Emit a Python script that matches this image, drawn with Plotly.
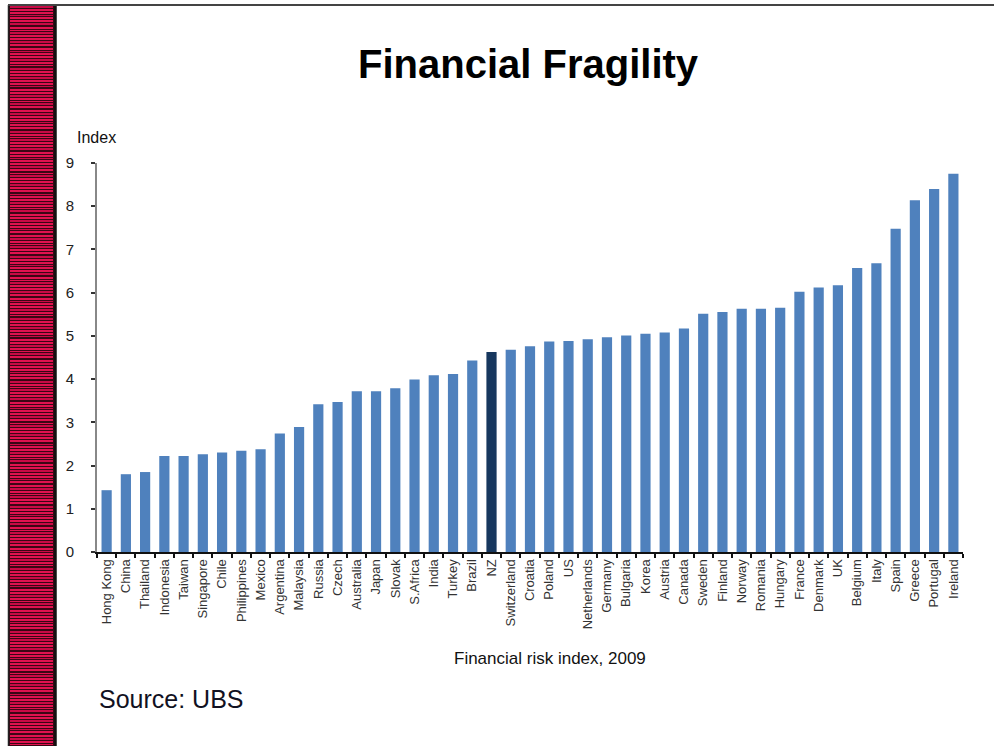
import plotly.graph_objects as go

# Financial risk index by country, 2009 (source: UBS)
countries = [
    "Hong Kong", "China", "Thailand", "Indonesia", "Taiwan", "Singapore", "Chile",
    "Philippines", "Mexico", "Argentina", "Malaysia", "Russia", "Czech", "Australia",
    "Japan", "Slovak", "S.Africa", "India", "Turkey", "Brazil", "NZ", "Switzerland",
    "Croatia", "Poland", "US", "Netherlands", "Germany", "Bulgaria", "Korea", "Austria",
    "Canada", "Sweden", "Finland", "Norway", "Romania", "Hungary", "France", "Denmark",
    "UK", "Belgium", "Italy", "Spain", "Greece", "Portugal", "Ireland",
]
index_values = [
    1.43, 1.80, 1.85, 2.22, 2.22, 2.26, 2.30,
    2.34, 2.38, 2.74, 2.89, 3.42, 3.47, 3.72,
    3.72, 3.79, 3.99, 4.09, 4.12, 4.43, 4.63, 4.68,
    4.76, 4.87, 4.88, 4.92, 4.97, 5.01, 5.05, 5.08,
    5.17, 5.51, 5.55, 5.63, 5.63, 5.65, 6.02, 6.12,
    6.17, 6.57, 6.68, 7.48, 8.14, 8.40, 8.75,
]
highlight = "NZ"
y_ticks = [0, 1, 2, 3, 4, 5, 6, 7, 8, 9]

BAR = "#4f81bd"
BAR_HI = "#17375e"
bar_colors = [BAR_HI if c == highlight else BAR for c in countries]

W, H = 994, 746
L, R, T, B = 97, 31, 163, 194
PW, PH = W - L - R, H - T - B
FONT = "Liberation Sans, Arial"


def px_x(p):
    return (p - L) / PW


def px_y(p):
    return (H - B - p) / PH


fig = go.Figure(
    go.Bar(
        x=countries,
        y=index_values,
        marker=dict(color=bar_colors, line=dict(width=0)),
        hovertemplate="%{x}: %{y}<extra></extra>",
    )
)

shapes = []
# Decorative striped band on the left edge of the slide
shapes.append(dict(type="rect", xref="paper", yref="paper",
                   x0=px_x(9), x1=px_x(55), y0=px_y(H), y1=px_y(5),
                   fillcolor="#3b0614", line=dict(width=0), layer="below"))
pattern = [2, 2, 2, 1, 2, 2, 2, 2, 1, 2, 2, 2]
y = 6
k = 0
while y < H:
    h = pattern[k % len(pattern)]
    shade = "#e0124f" if k % 3 else "#c80a45"
    shapes.append(dict(type="rect", xref="paper", yref="paper",
                       x0=px_x(10), x1=px_x(53), y0=px_y(y + h), y1=px_y(y),
                       fillcolor=shade, line=dict(width=0), layer="below"))
    y += h + 1 + (1 if k % 7 == 6 else 0)
    k += 1
# Frame lines
shapes.append(dict(type="line", xref="paper", yref="paper",
                   x0=px_x(55.5), x1=px_x(55.5), y0=px_y(H), y1=px_y(5),
                   line=dict(color="#111111", width=2.5)))
shapes.append(dict(type="line", xref="paper", yref="paper",
                   x0=px_x(8.5), x1=px_x(8.5), y0=px_y(H), y1=px_y(5),
                   line=dict(color="#222222", width=1.5)))
shapes.append(dict(type="line", xref="paper", yref="paper",
                   x0=px_x(8), x1=px_x(W), y0=px_y(5), y1=px_y(5),
                   line=dict(color="#444444", width=2)))

annotations = [
    dict(text="<b>Financial Fragility</b>", xref="paper", yref="paper",
         x=px_x(528), y=px_y(64), xanchor="center", yanchor="middle",
         showarrow=False, font=dict(family=FONT, size=40, color="#000000")),
    dict(text="Index", xref="paper", yref="paper",
         x=px_x(75), y=px_y(137), xanchor="left", yanchor="middle",
         showarrow=False, font=dict(family=FONT, size=16, color="#111111")),
    dict(text="Financial risk index, 2009", xref="paper", yref="paper",
         x=px_x(550), y=px_y(658), xanchor="center", yanchor="middle",
         showarrow=False, font=dict(family=FONT, size=17, color="#111111")),
    dict(text="Source: UBS", xref="paper", yref="paper",
         x=px_x(97), y=px_y(699), xanchor="left", yanchor="middle",
         showarrow=False, font=dict(family=FONT, size=25, color="#111122")),
]

fig.update_layout(
    width=W, height=H,
    margin=dict(l=L, r=R, t=T, b=B, autoexpand=False),
    paper_bgcolor="white", plot_bgcolor="white",
    showlegend=False,
    bargap=0.47,
    shapes=shapes,
    annotations=annotations,
    font=dict(family=FONT, color="#222222"),
)
fig.update_xaxes(
    type="category",
    tickangle=-90,
    tickfont=dict(size=13, color="#333333"),
    showline=True, linecolor="#111111", linewidth=2,
    ticks="outside", tickson="boundaries", ticklen=4, tickcolor="#111111", tickwidth=1.5,
    showgrid=False, zeroline=False,
    range=[-0.5, len(countries) - 0.5],
)
fig.update_yaxes(
    range=[0, 9],
    tickvals=y_ticks,
    tickfont=dict(size=15, color="#222222"),
    ticklabelstandoff=14,
    showline=True, linecolor="#888888", linewidth=2,
    ticks="outside", ticklen=4, tickcolor="#333333", tickwidth=1.5,
    showgrid=False, zeroline=False,
)

fig.write_html("out.html")
